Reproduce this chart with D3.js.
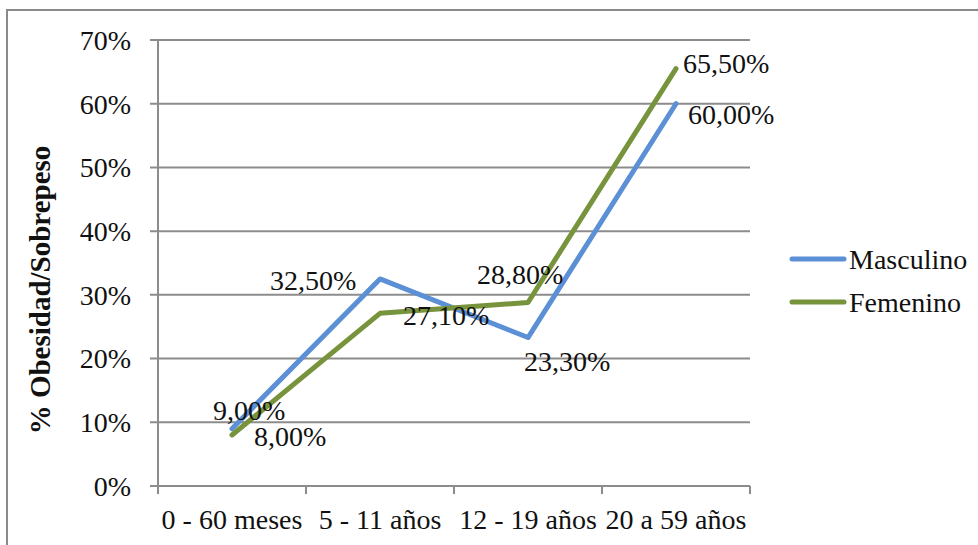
<!DOCTYPE html>
<html>
<head>
<meta charset="utf-8">
<script src="https://cdn.jsdelivr.net/npm/d3@7"></script>
<style>
  body { margin: 0; background: #fff; }
  svg { display: block; font-family: "Liberation Serif", "DejaVu Serif", serif; }
</style>
</head>
<body>
<svg id="grafico" width="978" height="545"></svg>
<script>
// Obesidad / sobrepeso por grupo de edad y sexo
const grupos = ["0 - 60 meses", "5 - 11 años", "12 - 19 años", "20 a 59 años"];
const masculino = [9.0, 32.5, 23.3, 60.0];
const femenino = [8.0, 27.1, 28.8, 65.5];
const ticksY = [0, 10, 20, 30, 40, 50, 60, 70];

// desplazamiento de cada etiqueta respecto a su punto (como en Excel)
const offMasc = [[-19, -18], [-110, 1], [-4, 24], [12, 10]];
const offFem = [[22, 1], [23, 2], [-51, -28], [7, -5]];

const series = [
  { nombre: "Masculino", valores: masculino, color: "#5B8FD6", off: offMasc },
  { nombre: "Femenino", valores: femenino, color: "#77933C", off: offFem }
];

const svg = d3.select("#grafico");
const izq = 158, der = 750, arriba = 40, abajo = 486;
const tam = 28;

const loc = d3.formatLocale({ decimal: ",", thousands: ".", grouping: [3], currency: ["", ""] });
const fmt = v => loc.format(".2f")(v) + "%";

const x = d3.scalePoint().domain(grupos).range([izq, der]).padding(0.5);
const xb = d3.scaleBand().domain(grupos).range([izq, der]);
const y = d3.scaleLinear().domain([0, 70]).range([abajo, arriba]);

// marco
svg.append("rect")
  .attr("x", 7).attr("y", 10).attr("width", 1000).attr("height", 600)
  .attr("fill", "none").attr("stroke", "#8a8a8a").attr("stroke-width", 2);

// cuadrícula
svg.append("g").selectAll("line").data(ticksY).join("line")
  .attr("x1", 150).attr("x2", der)
  .attr("y1", d => y(d)).attr("y2", d => y(d))
  .attr("stroke", "#8c8c8c").attr("stroke-width", 2);

// eje vertical
svg.append("line").attr("x1", izq).attr("x2", izq).attr("y1", arriba).attr("y2", abajo)
  .attr("stroke", "#8c8c8c").attr("stroke-width", 2);

svg.append("g").selectAll("text").data(ticksY).join("text")
  .attr("x", 131).attr("y", d => y(d)).attr("dy", "0.35em")
  .attr("text-anchor", "end").attr("font-size", tam).attr("fill", "#111")
  .text(d => d + "%");

// eje horizontal: marcas en los límites de cada categoría
const limites = grupos.map(g => xb(g)).concat([der]);
svg.append("g").selectAll("line").data(limites).join("line")
  .attr("x1", d => d).attr("x2", d => d).attr("y1", abajo).attr("y2", abajo + 8)
  .attr("stroke", "#8c8c8c").attr("stroke-width", 2);

svg.append("g").selectAll("text").data(grupos).join("text")
  .attr("x", d => x(d)).attr("y", 529)
  .attr("text-anchor", "middle").attr("font-size", tam).attr("fill", "#111")
  .text(d => d);

// título del eje
svg.append("text")
  .attr("transform", "translate(50,290) rotate(-90)")
  .attr("text-anchor", "middle").attr("font-size", 29).attr("font-weight", "bold").attr("fill", "#111")
  .text("% Obesidad/Sobrepeso");

// líneas
const linea = d3.line().x((d, i) => x(grupos[i])).y(d => y(d));
series.forEach(s => {
  svg.append("path").datum(s.valores)
    .attr("d", linea).attr("fill", "none")
    .attr("stroke", s.color).attr("stroke-width", 5)
    .attr("stroke-linejoin", "round").attr("stroke-linecap", "round");
});

// etiquetas de datos
series.forEach(s => {
  svg.append("g").selectAll("text").data(s.valores).join("text")
    .attr("x", (d, i) => x(grupos[i]) + s.off[i][0])
    .attr("y", (d, i) => y(d) + s.off[i][1])
    .attr("dy", "0.35em")
    .attr("font-size", tam).attr("fill", "#111")
    .text(d => fmt(d));
});

// leyenda
const ley = svg.append("g").selectAll("g").data(series).join("g")
  .attr("transform", (d, i) => `translate(792,${259 + i * 43})`);
ley.append("line").attr("x1", 0).attr("x2", 52)
  .attr("stroke", d => d.color).attr("stroke-width", 5).attr("stroke-linecap", "round");
ley.append("text").attr("x", 57).attr("dy", "0.35em")
  .attr("font-size", tam).attr("fill", "#111").text(d => d.nombre);
</script>
</body>
</html>
